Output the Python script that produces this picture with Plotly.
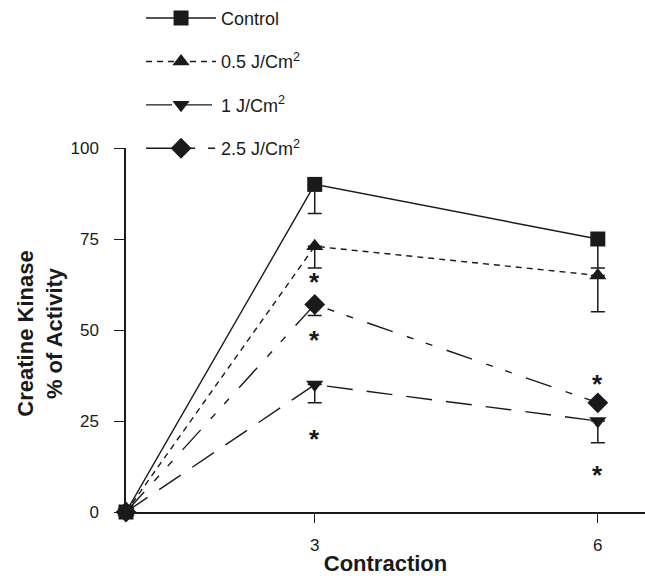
import plotly.graph_objects as go

contraction = [1, 3, 6]
control = [0, 90, 75]
control_err = [0, 8, 8]
j05 = [0, 73, 65]
j05_err = [0, 6, 10]
j1 = [0, 35, 25]
j1_err = [0, 5, 6]
j25 = [0, 57, 30]
j25_err = [0, 3, 0]

star_x = [3, 3, 3, 6, 6]
star_y = [64, 48, 21, 36, 11]

xticks = [3, 6]
yticks = [0, 25, 50, 75, 100]

FONT = "Liberation Sans, Arial, sans-serif"
INK = "#1a1a1a"

series = [
    ("Control", control, control_err, "square", "solid"),
    ("0.5 J/Cm<sup>2</sup>", j05, j05_err, "triangle-up", "6px,5px"),
    ("1 J/Cm<sup>2</sup>", j1, j1_err, "triangle-down", "26px,14px"),
    ("2.5 J/Cm<sup>2</sup>", j25, j25_err, "diamond", "27px,15px,7px,13px,7px,15px"),
]

fig = go.Figure()
for i, (name, ys, errs, sym, dash) in enumerate(series):
    fig.add_trace(go.Scatter(
        x=contraction, y=ys, name=name, mode="lines+markers",
        legendgroup=f"g{i}",
        line=dict(color=INK, width=1.4, dash=dash),
        marker=dict(symbol=sym, size=15 if sym != "diamond" else 16, color=INK),
        error_y=dict(type="data", symmetric=False, array=[0, 0, 0], arrayminus=errs,
                     color=INK, thickness=1.5, width=7),
        cliponaxis=False,
    ))

for sx, sy in zip(star_x, star_y):
    fig.add_annotation(x=sx, y=sy, text="<b>*</b>", showarrow=False,
                       font=dict(family=FONT, size=26, color=INK), yshift=-3)

# y-axis title as a rotated label left of the tick labels
fig.add_annotation(x=0, y=0.49, xref="paper", yref="paper", xanchor="center", yanchor="middle",
                   xshift=-86, textangle=-90, showarrow=False,
                   text="<b>Creatine Kinase<br>% of Activity</b>",
                   font=dict(size=22, family=FONT, color=INK))

fig.update_layout(
    width=645, height=576,
    margin=dict(l=126, r=0, t=148, b=64, pad=0, autoexpand=False),
    paper_bgcolor="white", plot_bgcolor="white",
    font=dict(family=FONT, color=INK),
    showlegend=True,
    legend=dict(x=0.029, y=1.407, xanchor="left", yanchor="top",
                font=dict(size=18, family=FONT, color=INK),
                tracegroupgap=17, bgcolor="rgba(0,0,0,0)", itemwidth=70),
    xaxis=dict(range=[1, 6.5], tickvals=xticks, ticks="outside", ticklen=9,
               tickwidth=1.3, tickcolor=INK, showline=True, linecolor=INK, linewidth=1.5,
               showgrid=False, zeroline=False, tickfont=dict(size=17, family=FONT),
               ticklabelstandoff=8, automargin=False,
               title=dict(text="<b>Contraction</b>", font=dict(size=22, family=FONT), standoff=2)),
    yaxis=dict(range=[0, 100], tickvals=yticks, ticks="outside", ticklen=10,
               tickwidth=1.3, tickcolor=INK, showline=True, linecolor=INK, linewidth=1.5,
               showgrid=False, zeroline=False, tickfont=dict(size=17, family=FONT),
               ticklabelstandoff=12, automargin=False),
)

fig.write_html("out.html", config={"displayModeBar": False},
               post_script="document.body.style.margin='0px';")
